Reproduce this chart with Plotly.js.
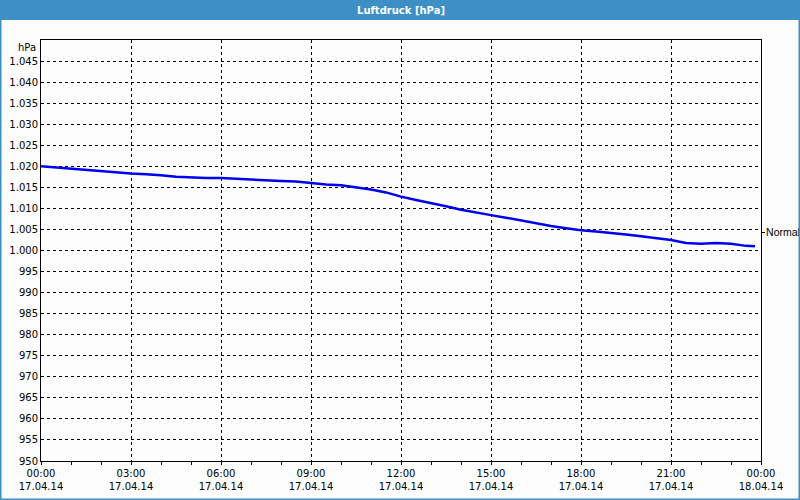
<!DOCTYPE html>
<html>
<head>
<meta charset="utf-8">
<script src="https://cdn.plot.ly/plotly-3.0.1.min.js"></script>
<style>
html,body{margin:0;padding:0;background:#fcfdfc;}
#chart{width:800px;height:500px;}
</style>
</head>
<body>
<div id="chart"></div>
<script>
// ---- data ----
const times = [
  "2014-04-17 00:00","2014-04-17 00:30","2014-04-17 01:00","2014-04-17 01:30",
  "2014-04-17 02:00","2014-04-17 02:30","2014-04-17 03:00","2014-04-17 03:30",
  "2014-04-17 04:00","2014-04-17 04:30","2014-04-17 05:00","2014-04-17 05:30",
  "2014-04-17 06:00","2014-04-17 06:30","2014-04-17 07:00","2014-04-17 07:30",
  "2014-04-17 08:00","2014-04-17 08:30","2014-04-17 09:00","2014-04-17 09:30",
  "2014-04-17 10:00","2014-04-17 10:30","2014-04-17 11:00","2014-04-17 11:30",
  "2014-04-17 12:00","2014-04-17 12:30","2014-04-17 13:00","2014-04-17 13:30",
  "2014-04-17 14:00","2014-04-17 14:30","2014-04-17 15:00","2014-04-17 15:30",
  "2014-04-17 16:00","2014-04-17 16:30","2014-04-17 17:00","2014-04-17 17:30",
  "2014-04-17 18:00","2014-04-17 18:30","2014-04-17 19:00","2014-04-17 19:30",
  "2014-04-17 20:00","2014-04-17 20:30","2014-04-17 21:00","2014-04-17 21:30",
  "2014-04-17 22:00","2014-04-17 22:30","2014-04-17 23:00","2014-04-17 23:30",
  "2014-04-17 23:48"
];
const pressure = [
  1020.0,1019.7,1019.5,1019.2,
  1018.9,1018.5,1018.3,1018.1,
  1017.9,1017.5,1017.3,1017.2,
  1017.2,1017.0,1016.8,1016.6,
  1016.5,1016.4,1016.0,1015.7,
  1015.5,1015.0,1014.5,1013.8,
  1012.8,1012.0,1011.3,1010.5,
  1009.7,1009.0,1008.4,1007.8,
  1007.1,1006.4,1005.8,1005.3,
  1004.8,1004.5,1004.2,1003.8,
  1003.4,1002.9,1002.5,1001.8,
  1001.6,1001.8,1001.6,1001.1,
  1001.0
];
const xTickVals = [
  "2014-04-17 00:00","2014-04-17 03:00","2014-04-17 06:00","2014-04-17 09:00",
  "2014-04-17 12:00","2014-04-17 15:00","2014-04-17 18:00","2014-04-17 21:00",
  "2014-04-18 00:00"
];
const xTickText = [
  "00:00<br>17.04.14","03:00<br>17.04.14","06:00<br>17.04.14","09:00<br>17.04.14",
  "12:00<br>17.04.14","15:00<br>17.04.14","18:00<br>17.04.14","21:00<br>17.04.14",
  "00:00<br>18.04.14"
];
const yTickVals = [950,955,960,965,970,975,980,985,990,995,1000,1005,1010,1015,1020,1025,1030,1035,1040,1045];
const yTickText = ["950","955","960","965","970","975","980","985","990","995",
  "1.000","1.005","1.010","1.015","1.020","1.025","1.030","1.035","1.040","1.045"];
const normalLevel = [1004.3];
const normalLabel = ["Normal"];
const yRange = [950, 1050];
const xRange = ["2014-04-17 00:00", "2014-04-18 00:00"];
const chartTitle = "Luftdruck [hPa]";
const unitLabel = "hPa";

// ---- styles ----
const FONT = "DejaVu Sans, Verdana, sans-serif";
const NARROW = "Liberation Sans, Arial, sans-serif";
const BLUE_BAR = "#3d8fc5";

const traces = [
  {
    x: times, y: pressure, type: "scatter", mode: "lines",
    line: {color: "#0000f0", width: 2.5},
    hoverinfo: "skip", showlegend: false
  },
  {
    x: [], y: [], yaxis: "y2", type: "scatter", mode: "lines",
    hoverinfo: "skip", showlegend: false
  }
];

// paper-coordinate helpers for frame decoration (plot area 41..761 x 40..461 px)
const px = p => (p - 41) / 720;
const py = q => (461 - q) / 421;

const layout = {
  width: 800, height: 500,
  margin: {l: 41, r: 39, t: 40, b: 39, pad: 0},
  paper_bgcolor: "#fcfdfc",
  plot_bgcolor: "#fcfdfc",
  font: {family: FONT, size: 10, color: "#000"},
  title: {
    text: "<b>" + chartTitle + "</b>",
    font: {family: FONT, size: 10, color: "#ffffff"},
    x: 0.5, xanchor: "center", xref: "paper",
    y: 1 - 10.5/500, yanchor: "middle", yref: "container"
  },
  xaxis: {
    type: "date", range: xRange,
    tickvals: xTickVals, ticktext: xTickText,
    showgrid: true, gridcolor: "#000", gridwidth: 1, griddash: "3px,3px",
    showline: true, linecolor: "#000", linewidth: 1, mirror: true,
    ticks: "outside", ticklen: 3, tickcolor: "#000",
    minor: {dtick: 3600000, ticks: "outside", ticklen: 3, tickcolor: "#000", showgrid: false},
    zeroline: false, fixedrange: true,
    tickfont: {family: FONT, size: 10, color: "#000"}
  },
  yaxis: {
    range: yRange,
    tickvals: yTickVals, ticktext: yTickText,
    showgrid: true, gridcolor: "#000", gridwidth: 1, griddash: "3px,3px",
    showline: true, linecolor: "#000", linewidth: 1, mirror: true,
    ticks: "", zeroline: false, fixedrange: true,
    tickfont: {family: FONT, size: 10, color: "#000"}
  },
  yaxis2: {
    overlaying: "y", side: "right", range: yRange,
    tickvals: normalLevel, ticktext: normalLabel,
    showgrid: false, showline: false, zeroline: false,
    ticks: "outside", ticklen: 3, tickcolor: "#000",
    ticklabelstandoff: -1,
    tickfont: {family: NARROW, size: 10.5, color: "#000"},
    fixedrange: true
  },
  annotations: [
    {
      text: unitLabel, xref: "paper", yref: "paper", x: 0, y: 1,
      xanchor: "right", yanchor: "top", xshift: -3, showarrow: false,
      font: {family: FONT, size: 10, color: "#000"}
    }
  ],
  shapes: [
    {type: "rect", xref: "paper", yref: "paper", layer: "below",
     x0: px(0), x1: px(800), y0: py(20), y1: py(0),
     fillcolor: BLUE_BAR, line: {width: 0}},
    {type: "rect", xref: "paper", yref: "paper", layer: "above",
     x0: px(0.75), x1: px(799.25), y0: py(499.25), y1: py(0.75),
     fillcolor: "rgba(0,0,0,0)", line: {color: BLUE_BAR, width: 1.5}}
  ],
  showlegend: false
};

Plotly.newPlot("chart", traces, layout, {staticPlot: true, displayModeBar: false});
</script>
</body>
</html>
